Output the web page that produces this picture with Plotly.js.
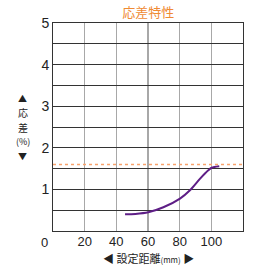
<!DOCTYPE html>
<html><head><meta charset="utf-8">
<script src="https://cdn.plot.ly/plotly-3.0.1.min.js"></script>
<style>body{margin:0;background:#fff}#c{width:260px;height:268px}</style>
</head><body><div id="c"></div>
<script>
const curveX = [45.5, 52, 60.2, 69.7, 80.2, 86.5, 92.9, 98.1, 100.2, 105];
const curveY = [0.40, 0.41, 0.45, 0.57, 0.78, 0.98, 1.26, 1.46, 1.52, 1.555];
const refX = [0, 120];
const refY = [1.6, 1.6];
const xTickVals = [20, 40, 60, 80, 100, 120];
const xTickText = ['20', '40', '60', '80', '100', ''];
const yTickVals = [0.5, 1, 1.5, 2, 2.5, 3, 3.5, 4, 4.5, 5];
const yTickText = ['', '1', '', '2', '', '3', '', '4', '', '5'];
const yTitleParts = ['▲', '応', '差', '(%)', '▼'];

const F = 'Liberation Sans, Arial, sans-serif';
const J = 'Noto Sans CJK JP, sans-serif';
const data = [
  {x: refX, y: refY, mode: 'lines', line: {color: '#f7a36e', width: 1.5, dash: 'dot'}, hoverinfo: 'skip'},
  {x: curveX, y: curveY, mode: 'lines', line: {color: '#5e1e86', width: 2, shape: 'spline', smoothing: 0.8}}
];
const yTitlePix = [98, 112.5, 127, 141.5, 156];
const yTitleSize = [9, 10, 10, 9, 9];
const annotations = [
  {x: 0, y: 0, xref: 'x', yref: 'paper', text: '0', showarrow: false, xanchor: 'center', yanchor: 'top',
   xshift: -9, yshift: -2, font: {family: F, size: 13, color: '#222'}},
  {x: 0.5, y: 0, xref: 'paper', yref: 'paper', text: '◀ 設定距離<span style="font-size:8px">(mm)</span> ▶', showarrow: false,
   xanchor: 'center', yanchor: 'top', yshift: -17, font: {family: J, size: 11, color: '#222'}}
];
yTitleParts.forEach((t, i) => {
  annotations.push({x: -0.16, y: (231 - yTitlePix[i]) / 208, xref: 'paper', yref: 'paper', text: t, showarrow: false,
    xanchor: 'center', yanchor: 'middle', font: {family: J, size: yTitleSize[i], color: '#222'}});
});
const layout = {
  width: 260, height: 268,
  margin: {l: 53, r: 17, t: 23, b: 37},
  paper_bgcolor: '#fff', plot_bgcolor: '#fff',
  showlegend: false,
  title: {text: '応差特性', font: {family: J, size: 13, color: '#ef8a33'}, x: 0.57, xanchor: 'center', y: 0.952, yanchor: 'middle'},
  xaxis: {range: [0, 120], tickvals: xTickVals, ticktext: xTickText, showgrid: true, gridcolor: '#a8a8a8', gridwidth: 1.5,
          zeroline: false, showline: true, linecolor: '#333', linewidth: 1, mirror: true, ticks: '',
          ticklabelstandoff: -2,
          tickfont: {family: F, size: 13, color: '#222'}, fixedrange: true},
  yaxis: {range: [0, 5], tickvals: yTickVals, ticktext: yTickText, showgrid: true, gridcolor: '#333', gridwidth: 1,
          zeroline: false, showline: true, linecolor: '#333', linewidth: 1, mirror: true, ticks: '',
          tickfont: {family: F, size: 14, color: '#222'}, fixedrange: true},
  annotations: annotations
};
Plotly.newPlot('c', data, layout, {displayModeBar: false, staticPlot: true});
</script></body></html>
